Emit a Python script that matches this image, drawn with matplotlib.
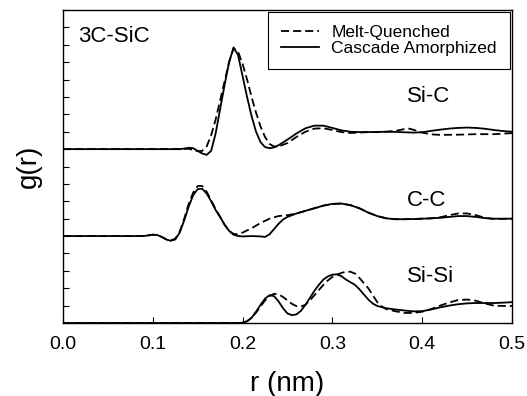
import matplotlib
matplotlib.use('Agg')
import matplotlib.pyplot as plt

plt.rcParams['font.family'] = ['Liberation Sans', 'DejaVu Sans']

# g(r) data; r in nm
# Si-C
r_sic_ca = [0.0, 0.13, 0.135, 0.14, 0.145, 0.15, 0.155, 0.16, 0.165, 0.17, 0.175, 0.18, 0.185,
            0.19, 0.195, 0.2, 0.205, 0.21, 0.215, 0.22, 0.225, 0.23, 0.235, 0.24, 0.25, 0.26,
            0.27, 0.28, 0.29, 0.30, 0.31, 0.32, 0.33, 0.34, 0.35, 0.36, 0.37, 0.38, 0.39, 0.40,
            0.41, 0.42, 0.43, 0.44, 0.45, 0.46, 0.47, 0.48, 0.49, 0.5]
g_sic_ca = [0.0, 0.0, 0.03, 0.08, 0.05, -0.1, -0.25, -0.33, -0.1, 0.9, 2.3, 3.7, 5.0,
            5.85, 5.4, 4.2, 3.0, 1.9, 1.0, 0.4, 0.12, 0.05, 0.1, 0.22, 0.55, 0.9,
            1.2, 1.35, 1.35, 1.22, 1.08, 1.0, 0.98, 0.98, 0.99, 1.0, 0.99, 0.97, 0.95, 0.97,
            1.05, 1.12, 1.18, 1.22, 1.24, 1.22, 1.17, 1.1, 1.04, 1.0]

r_sic_mq = [0.0, 0.13, 0.14, 0.145, 0.15, 0.155, 0.16, 0.165, 0.17, 0.175, 0.18, 0.185, 0.19,
            0.195, 0.2, 0.205, 0.21, 0.215, 0.22, 0.225, 0.23, 0.235, 0.24, 0.25, 0.26, 0.27,
            0.28, 0.29, 0.30, 0.31, 0.32, 0.33, 0.34, 0.35, 0.36, 0.37, 0.38, 0.385, 0.39,
            0.40, 0.41, 0.42, 0.44, 0.46, 0.48, 0.5]
g_sic_mq = [0.0, 0.0, 0.02, -0.05, -0.12, -0.1, 0.15, 0.8, 1.7, 2.8, 3.9, 5.0, 5.8,
            5.6, 4.9, 4.0, 3.0, 2.1, 1.3, 0.7, 0.3, 0.15, 0.15, 0.35, 0.7, 1.0,
            1.18, 1.2, 1.1, 0.98, 0.93, 0.95, 0.98, 0.98, 1.0, 1.05, 1.15, 1.18, 1.12,
            0.95, 0.85, 0.82, 0.83, 0.86, 0.86, 0.92]

# C-C
r_cc_ca = [0.0, 0.09, 0.095, 0.1, 0.105, 0.11, 0.115, 0.12, 0.125, 0.13, 0.135, 0.14, 0.145,
           0.15, 0.155, 0.16, 0.165, 0.17, 0.175, 0.18, 0.185, 0.19, 0.195, 0.2, 0.21, 0.22,
           0.225, 0.23, 0.235, 0.24, 0.245, 0.25, 0.26, 0.27, 0.28, 0.29, 0.3, 0.31, 0.32,
           0.33, 0.34, 0.35, 0.36, 0.37, 0.38, 0.39, 0.40, 0.41, 0.42, 0.43, 0.44, 0.45,
           0.46, 0.47, 0.48, 0.5]
g_cc_ca = [0.0, 0.0, 0.04, 0.08, 0.06, -0.05, -0.2, -0.27, -0.2, 0.2, 0.9, 1.7, 2.35,
           2.7, 2.72, 2.45, 2.0, 1.5, 1.1, 0.65, 0.3, 0.08, 0.0, -0.02, 0.0, -0.02,
           -0.05, 0.1, 0.4, 0.7, 0.95, 1.1, 1.3, 1.45, 1.6, 1.75, 1.85, 1.87, 1.78,
           1.6, 1.35, 1.15, 1.02, 0.97, 0.97, 0.98, 1.0, 1.02, 1.05, 1.1, 1.15, 1.15,
           1.1, 1.03, 1.0, 1.0]

r_cc_mq = [0.0, 0.09, 0.095, 0.1, 0.105, 0.11, 0.115, 0.12, 0.125, 0.13, 0.135, 0.14, 0.145,
           0.15, 0.155, 0.16, 0.165, 0.17, 0.175, 0.18, 0.185, 0.19, 0.195, 0.2, 0.21, 0.22,
           0.23, 0.24, 0.25, 0.26, 0.27, 0.28, 0.29, 0.3, 0.31, 0.32, 0.33, 0.34, 0.35,
           0.36, 0.37, 0.38, 0.39, 0.40, 0.41, 0.42, 0.43, 0.44, 0.45, 0.46, 0.47, 0.48, 0.5]
g_cc_mq = [0.0, 0.0, 0.04, 0.08, 0.06, -0.05, -0.18, -0.25, -0.15, 0.25, 1.0, 1.85, 2.5,
           2.88, 2.88, 2.55, 2.05, 1.55, 1.1, 0.65, 0.3, 0.12, 0.1, 0.2, 0.45, 0.75,
           1.0, 1.15, 1.2, 1.3, 1.45, 1.6, 1.75, 1.85, 1.87, 1.78, 1.6, 1.35, 1.15,
           1.02, 0.97, 0.97, 0.98, 1.0, 1.02, 1.08, 1.2, 1.3, 1.3, 1.2, 1.05, 0.98, 1.0]

# Si-Si
r_sisi_ca = [0.0, 0.195, 0.2, 0.205, 0.21, 0.215, 0.22, 0.225, 0.23, 0.235, 0.24, 0.245, 0.25,
             0.255, 0.26, 0.265, 0.27, 0.275, 0.28, 0.285, 0.29, 0.295, 0.3, 0.305, 0.31,
             0.315, 0.32, 0.325, 0.33, 0.335, 0.34, 0.345, 0.35, 0.36, 0.37, 0.38, 0.39,
             0.4, 0.41, 0.42, 0.43, 0.44, 0.45, 0.46, 0.47, 0.48, 0.49, 0.5]
g_sisi_ca = [0.0, 0.0, 0.02, 0.1, 0.3, 0.65, 1.05, 1.4, 1.6, 1.55, 1.25, 0.85, 0.55,
             0.45, 0.5, 0.7, 1.05, 1.45, 1.85, 2.2, 2.5, 2.68, 2.78, 2.8, 2.7,
             2.5, 2.35, 2.2, 1.95, 1.65, 1.35, 1.12, 0.98, 0.85, 0.78, 0.72, 0.67,
             0.68, 0.78, 0.9, 1.0, 1.08, 1.13, 1.15, 1.15, 1.15, 1.17, 1.2]

r_sisi_mq = [0.0, 0.195, 0.2, 0.205, 0.21, 0.215, 0.22, 0.225, 0.23, 0.235, 0.24, 0.245, 0.25,
             0.255, 0.26, 0.265, 0.27, 0.275, 0.28, 0.285, 0.29, 0.295, 0.3, 0.305, 0.31,
             0.315, 0.32, 0.325, 0.33, 0.335, 0.34, 0.345, 0.35, 0.355, 0.36, 0.37, 0.38,
             0.39, 0.40, 0.41, 0.42, 0.43, 0.44, 0.45, 0.46, 0.47, 0.48, 0.49, 0.5]
g_sisi_mq = [0.0, 0.0, 0.02, 0.1, 0.3, 0.6, 0.95, 1.3, 1.55, 1.68, 1.65, 1.5, 1.3,
             1.1, 0.97, 0.95, 1.05, 1.3, 1.6, 1.9, 2.2, 2.45, 2.65, 2.78, 2.88,
             2.95, 2.95, 2.85, 2.6, 2.3, 2.0, 1.6, 1.2, 0.95, 0.8, 0.68, 0.58,
             0.58, 0.65, 0.8, 1.0, 1.18, 1.32, 1.35, 1.28, 1.12, 1.0, 0.98, 0.98]

offsets = {'Si-C': 10, 'C-C': 5, 'Si-Si': 0}
label_y = {'Si-C': 13.0, 'C-C': 7.05, 'Si-Si': 2.7}

fig = plt.figure(figsize=(5.27, 3.96), dpi=100)
ax = fig.add_axes([0.1195, 0.1843, 0.852, 0.7904])

dash = (0, (4.5, 2.2))
lw = 1.3

series = [
    ('Si-C', r_sic_mq, g_sic_mq, r_sic_ca, g_sic_ca),
    ('C-C', r_cc_mq, g_cc_mq, r_cc_ca, g_cc_ca),
    ('Si-Si', r_sisi_mq, g_sisi_mq, r_sisi_ca, g_sisi_ca),
]
for i, (name, r_mq, g_mq, r_ca, g_ca) in enumerate(series):
    off = offsets[name]
    ax.plot(r_mq, [g + off for g in g_mq], color='black', lw=lw, linestyle=dash,
            label='Melt-Quenched' if i == 0 else None)
    ax.plot(r_ca, [g + off for g in g_ca], color='black', lw=lw, linestyle='-',
            label='Cascade Amorphized' if i == 0 else None)
    ax.text(0.383, label_y[name], name, fontsize=16, va='center', ha='left')

ax.set_xlim(0, 0.5)
ax.set_ylim(0, 18)
ax.set_xticks([0.0, 0.1, 0.2, 0.3, 0.4, 0.5])
ax.set_xticklabels(['0.0', '0.1', '0.2', '0.3', '0.4', '0.5'])
ax.set_yticks(range(0, 19))
ax.set_yticklabels([])
ax.tick_params(axis='x', direction='in', length=4, labelsize=14, pad=9.5)
ax.tick_params(axis='y', direction='in', length=4, left=True)
for s in ax.spines.values():
    s.set_linewidth(1.0)

ax.set_xlabel('r (nm)', fontsize=20, labelpad=13)
ax.set_ylabel('g(r)', fontsize=20, labelpad=12)

ax.text(0.017, 16.5, '3C-SiC', fontsize=16, va='center', ha='left')

leg = ax.legend(loc='upper right', fontsize=12.5, frameon=True, fancybox=False,
                edgecolor='black', framealpha=1, handlelength=2.2, borderpad=0.75,
                labelspacing=0.05, handletextpad=0.7, borderaxespad=0.12)
leg.get_frame().set_linewidth(0.8)

fig.savefig('out.png', dpi=100)
